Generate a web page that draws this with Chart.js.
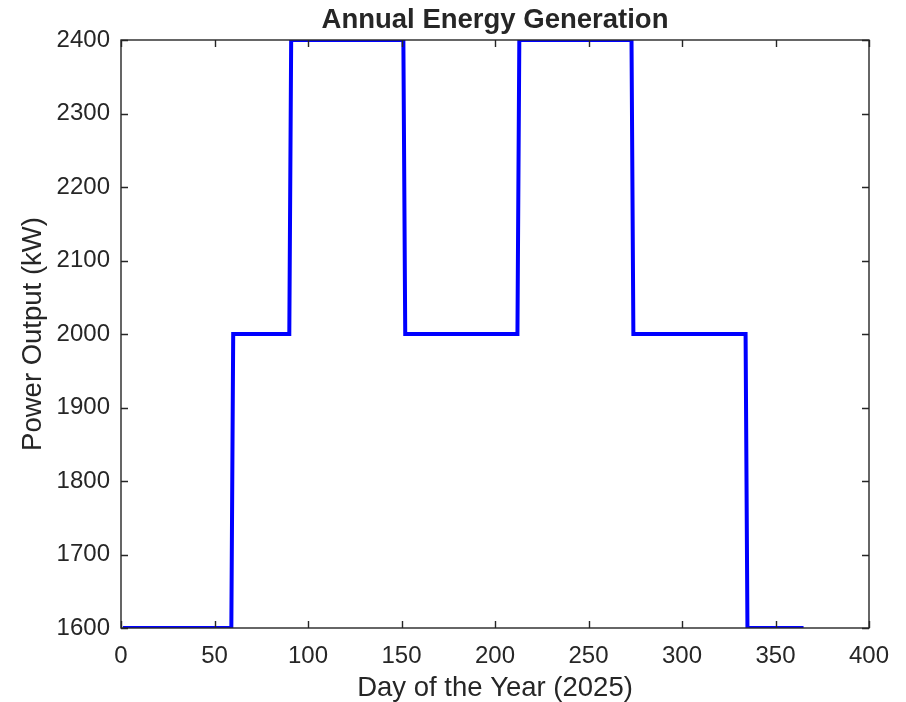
<!DOCTYPE html>
<html>
<head>
<meta charset="utf-8">
<script src="https://cdn.jsdelivr.net/npm/chart.js@4.4.1/dist/chart.umd.min.js"></script>
<style>
  html, body { margin: 0; padding: 0; background: #ffffff; }
  #wrap { width: 906px; height: 702px; }
</style>
</head>
<body>
<div id="wrap"><canvas id="c" width="906" height="702"></canvas></div>
<script>
// ---- data ----
const chartTitle = 'Annual Energy Generation';
const monthNames = ['Jan','Feb','Mar','Apr','May','Jun','Jul','Aug','Sep','Oct','Nov','Dec'];
const monthStartDay = [1, 32, 60, 91, 121, 152, 182, 213, 244, 274, 305, 335];
const monthEndDay = [31, 59, 90, 120, 151, 181, 212, 243, 273, 304, 334, 365];
const monthlyOutput = [1600, 1600, 2000, 2400, 2400, 2000, 2000, 2400, 2400, 2000, 2000, 1600];
const xTickValues = [0, 50, 100, 150, 200, 250, 300, 350, 400];
const yTickValues = [1600, 1700, 1800, 1900, 2000, 2100, 2200, 2300, 2400];

const points = [];
monthNames.forEach((m, i) => {
  points.push({ x: monthStartDay[i], y: monthlyOutput[i] });
  points.push({ x: monthEndDay[i], y: monthlyOutput[i] });
});

const INK = '#262626';
const FONT = "'Liberation Sans', Arial, Helvetica, sans-serif";

const framePlugin = {
  id: 'frame',
  afterDatasetsDraw(chart) {
    const { ctx, chartArea: a, scales } = chart;
    const tl = 7;
    ctx.save();
    ctx.strokeStyle = INK;
    ctx.lineWidth = 1.4;
    ctx.beginPath();
    xTickValues.forEach(v => {
      const px = Math.round(scales.x.getPixelForValue(v)) + 0.5;
      ctx.moveTo(px, a.bottom); ctx.lineTo(px, a.bottom - tl);
      ctx.moveTo(px, a.top); ctx.lineTo(px, a.top + tl);
    });
    yTickValues.forEach(v => {
      const py = Math.round(scales.y.getPixelForValue(v)) + 0.5;
      ctx.moveTo(a.left, py); ctx.lineTo(a.left + tl, py);
      ctx.moveTo(a.right, py); ctx.lineTo(a.right - tl, py);
    });
    ctx.stroke();
    ctx.strokeRect(a.left, a.top, a.right - a.left, a.bottom - a.top);
    // title, centred over the plot area
    ctx.fillStyle = INK;
    ctx.font = "bold 27.5px " + FONT;
    ctx.textAlign = 'center';
    ctx.textBaseline = 'alphabetic';
    ctx.fillText(chartTitle, (a.left + a.right) / 2, 28);
    ctx.restore();
  }
};

new Chart(document.getElementById('c'), {
  type: 'line',
  data: {
    datasets: [{
      data: points,
      borderColor: '#0000ff',
      borderWidth: 4,
      pointRadius: 0,
      tension: 0,
      fill: false,
      borderJoinStyle: 'miter',
      clip: 0
    }]
  },
  options: {
    responsive: false,
    animation: false,
    devicePixelRatio: 1,
    layout: { padding: { left: 0, right: 37, top: 40, bottom: 0 } },
    plugins: {
      legend: { display: false },
      tooltip: { enabled: false },
      title: { display: false }
    },
    scales: {
      x: {
        type: 'linear',
        min: 0, max: 400,
        afterFit(s) { s.height = 74; },
        afterBuildTicks(s) { s.ticks = xTickValues.map(v => ({ value: v })); },
        grid: { display: false },
        border: { display: false },
        ticks: {
          color: INK, font: { family: FONT, size: 24 }, padding: 6, maxRotation: 0, autoSkip: false,
          callback: v => String(v)
        },
        title: {
          display: true,
          text: 'Day of the Year (2025)',
          color: INK,
          font: { family: FONT, size: 27.5, lineHeight: 1 },
          padding: { top: 0, bottom: 0 }
        }
      },
      y: {
        type: 'linear',
        min: 1600, max: 2400,
        afterFit(s) { s.width = 121; },
        afterBuildTicks(s) { s.ticks = yTickValues.map(v => ({ value: v })); },
        grid: { display: false },
        border: { display: false },
        ticks: {
          color: INK, font: { family: FONT, size: 24 }, padding: 3, autoSkip: false,
          callback: v => String(v)
        },
        title: {
          display: true,
          text: 'Power Output (kW)',
          color: INK,
          font: { family: FONT, size: 27.5, lineHeight: 1.2 },
          padding: { top: 17, bottom: 0 }
        }
      }
    }
  },
  plugins: [framePlugin]
});
</script>
</body>
</html>
